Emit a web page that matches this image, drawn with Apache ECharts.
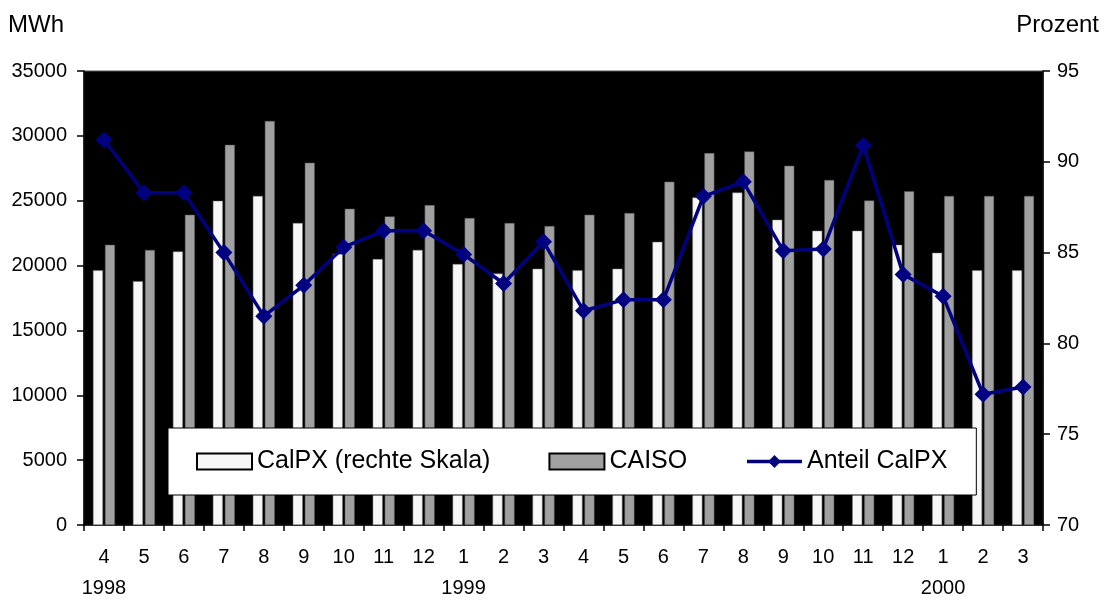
<!DOCTYPE html>
<html>
<head>
<meta charset="utf-8">
<script src="https://cdn.jsdelivr.net/npm/echarts@6/dist/echarts.min.js"></script>
<style>html,body{margin:0;padding:0;background:#fff}#c{width:1105px;height:604px}</style>
</head>
<body>
<div id="c"></div>
<script>
const months = ["4","5","6","7","8","9","10","11","12","1","2","3","4","5","6","7","8","9","10","11","12","1","2","3"];
const years  = ["1998","","","","","","","","","1999","","","","","","","","","","","","2000","",""];
const calpx  = [19630,18790,21090,24990,25370,23280,20900,20500,21210,20120,19380,19760,19630,19760,21830,25250,25630,23540,22690,22690,21600,20990,19630,19630];
const caiso  = [21600,21210,23920,29310,31150,27930,24380,23790,24660,23660,23280,23050,23920,24050,26470,28670,28800,27700,26600,25020,25730,25370,25370,25370];
const anteil = [91.2,88.3,88.3,85.0,81.5,83.2,85.3,86.2,86.2,84.9,83.3,85.6,81.8,82.4,82.4,88.1,88.9,85.1,85.2,90.9,83.8,82.6,77.2,77.6];
const leftTicks = [0,35000,5000];
const rightTicks = [70,95,5];

const font = 'Liberation Sans, Arial, sans-serif';
const chart = echarts.init(document.getElementById('c'), null, {renderer:'canvas'});
chart.setOption({
  animation:false,
  textStyle:{fontFamily:font},
  grid:{left:84,right:62,top:71,bottom:76,show:true,backgroundColor:'#000',borderColor:'#555',borderWidth:1},
  graphic:[
    {type:'text',left:8,top:13,style:{text:'MWh',font:'24px '+font,fill:'#000'}},
    {type:'text',right:6,top:13,style:{text:'Prozent',font:'24px '+font,fill:'#000'}}
  ],
  legend:{
    left:168, top:428,
    backgroundColor:'#fff', borderColor:'#000', borderWidth:1,
    padding:[21,29,21,28],
    itemWidth:55, itemHeight:16, itemGap:58,
    textStyle:{fontSize:25,color:'#000',fontFamily:font},
    lineStyle:{width:3.5},
    data:[
      {name:'CalPX (rechte Skala)',icon:'rect',itemStyle:{borderColor:'#000',borderWidth:2}},
      {name:'CAISO',icon:'rect',itemStyle:{borderColor:'#000',borderWidth:2}},
      {name:'Anteil CalPX'}
    ]
  },
  xAxis:{
    type:'category',
    data:months.map((m,i)=>m+'\n'+years[i]),
    axisLine:{lineStyle:{color:'#000',width:1.5}},
    axisTick:{show:true,length:6,lineStyle:{color:'#000',width:1.5}},
    axisLabel:{color:'#000',fontSize:20,lineHeight:31,margin:17,interval:0}
  },
  yAxis:[
    {type:'value',min:leftTicks[0],max:leftTicks[1],interval:leftTicks[2],
     splitLine:{show:false},
     axisLine:{show:true,lineStyle:{color:'#000',width:1.5}},
     axisTick:{show:true,length:7,lineStyle:{color:'#000',width:1.5}},
     axisLabel:{color:'#000',fontSize:20,margin:17,formatter:v=>String(v)}},
    {type:'value',min:rightTicks[0],max:rightTicks[1],interval:rightTicks[2],
     splitLine:{show:false},
     axisLine:{show:true,lineStyle:{color:'#000',width:1.5}},
     axisTick:{show:true,length:7,lineStyle:{color:'#000',width:1.5}},
     axisLabel:{color:'#000',fontSize:20,margin:14,formatter:v=>String(v)}}
  ],
  series:[
    {name:'CalPX (rechte Skala)',type:'bar',data:calpx,barWidth:10,barGap:'20%',
     itemStyle:{color:'#f7f7f7',borderColor:'#777',borderWidth:0.5}},
    {name:'CAISO',type:'bar',data:caiso,barWidth:10,barGap:'20%',
     itemStyle:{color:'#a0a0a0',borderColor:'#555',borderWidth:0.5}},
    {name:'Anteil CalPX',type:'line',yAxisIndex:1,data:anteil,
     symbol:'diamond',symbolSize:17,
     lineStyle:{color:'#000080',width:3.5},
     itemStyle:{color:'#000080'}}
  ]
});
</script>
</body>
</html>
